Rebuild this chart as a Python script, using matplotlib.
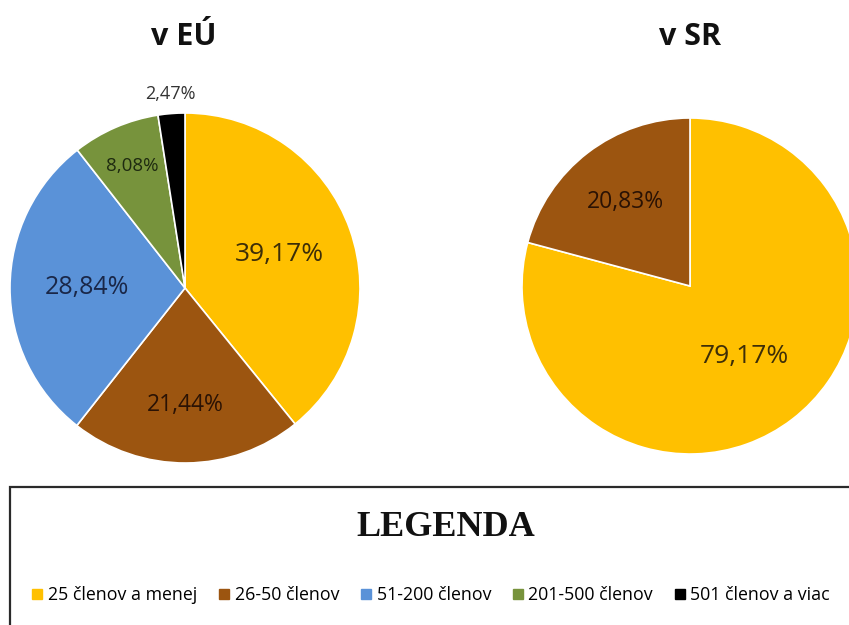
import numpy as np
import matplotlib
matplotlib.use("Agg")
import matplotlib.pyplot as plt
from matplotlib.patches import Rectangle
from matplotlib.lines import Line2D

plt.rcParams['font.family'] = ['Open Sans', 'DejaVu Sans']

# data
categories = ['25 členov a menej', '26-50 členov', '51-200 členov',
              '201-500 členov', '501 členov a viac']
colors = ['#FFC000', '#9C5510', '#5A92D8', '#77933C', '#000000']
txt_colors = ['#3d2e08', '#2a1204', '#1a2748', '#1e2a10', '#333333']

eu_values = [39.17, 21.44, 28.84, 8.08, 2.47]
eu_labels = ['39,17%', '21,44%', '28,84%', '8,08%', '2,47%']
eu_lab_r = [0.57, 0.67, 0.56, 0.76, 1.11]
eu_lab_fs = [19, 16.5, 18, 13.5, 13]

sr_values = [79.17, 20.83]
sr_labels = ['79,17%', '20,83%']
sr_lab_r = [0.53, 0.63]
sr_lab_fs = [19, 16.5]

W, H = 849, 625
fig = plt.figure(figsize=(W / 100, H / 100), dpi=100)


def pie_axes(cx, cy, r):
    return fig.add_axes([(cx - r) / W, (H - cy - r) / H, 2 * r / W, 2 * r / H])


def draw_pie(ax, values, labels, lab_r, lab_fs):
    wedges, _ = ax.pie(values, colors=colors[:len(values)], startangle=90,
                       counterclock=False, radius=1,
                       wedgeprops=dict(edgecolor='white', linewidth=1.2))
    for i, w in enumerate(wedges):
        ang = np.deg2rad((w.theta1 + w.theta2) / 2)
        ax.text(lab_r[i] * np.cos(ang), lab_r[i] * np.sin(ang), labels[i],
                ha='center', va='center', fontsize=lab_fs[i],
                color=txt_colors[i], clip_on=False)
    ax.set_xlim(-1, 1)
    ax.set_ylim(-1, 1)
    ax.set_aspect('auto')
    ax.axis('off')


ax1 = pie_axes(185, 288, 175)
draw_pie(ax1, eu_values, eu_labels, eu_lab_r, eu_lab_fs)

ax2 = pie_axes(690, 286, 168)
draw_pie(ax2, sr_values, sr_labels, sr_lab_r, sr_lab_fs)

fig.text(184 / W, 1 - 37 / H, 'v EÚ', ha='center', va='center',
         fontsize=22, fontweight='bold', color='#111111')
fig.text(690 / W, 1 - 37 / H, 'v SR', ha='center', va='center',
         fontsize=22, fontweight='bold', color='#111111')

# legend box
fig.patches.append(Rectangle((10 / W, -0.1), 1.1, 0.1 + 1 - 487 / H,
                             transform=fig.transFigure, fill=False,
                             edgecolor='#2a2a2a', linewidth=1.6))
fig.text(446 / W, 1 - 527 / H, 'LEGENDA', ha='center', va='center',
         fontsize=26, family='Liberation Serif', fontweight='bold',
         color='#111111')

handles = [Line2D([], [], marker='s', linestyle='none', markersize=6.5,
                  color=c) for c in colors]
fig.legend(handles, categories, loc='center', ncol=5, frameon=False,
           bbox_to_anchor=(431 / W, 1 - 595 / H), fontsize=12.8,
           handlelength=0.6, handletextpad=0.3, columnspacing=1.2)

fig.savefig('out.png', dpi=100)
